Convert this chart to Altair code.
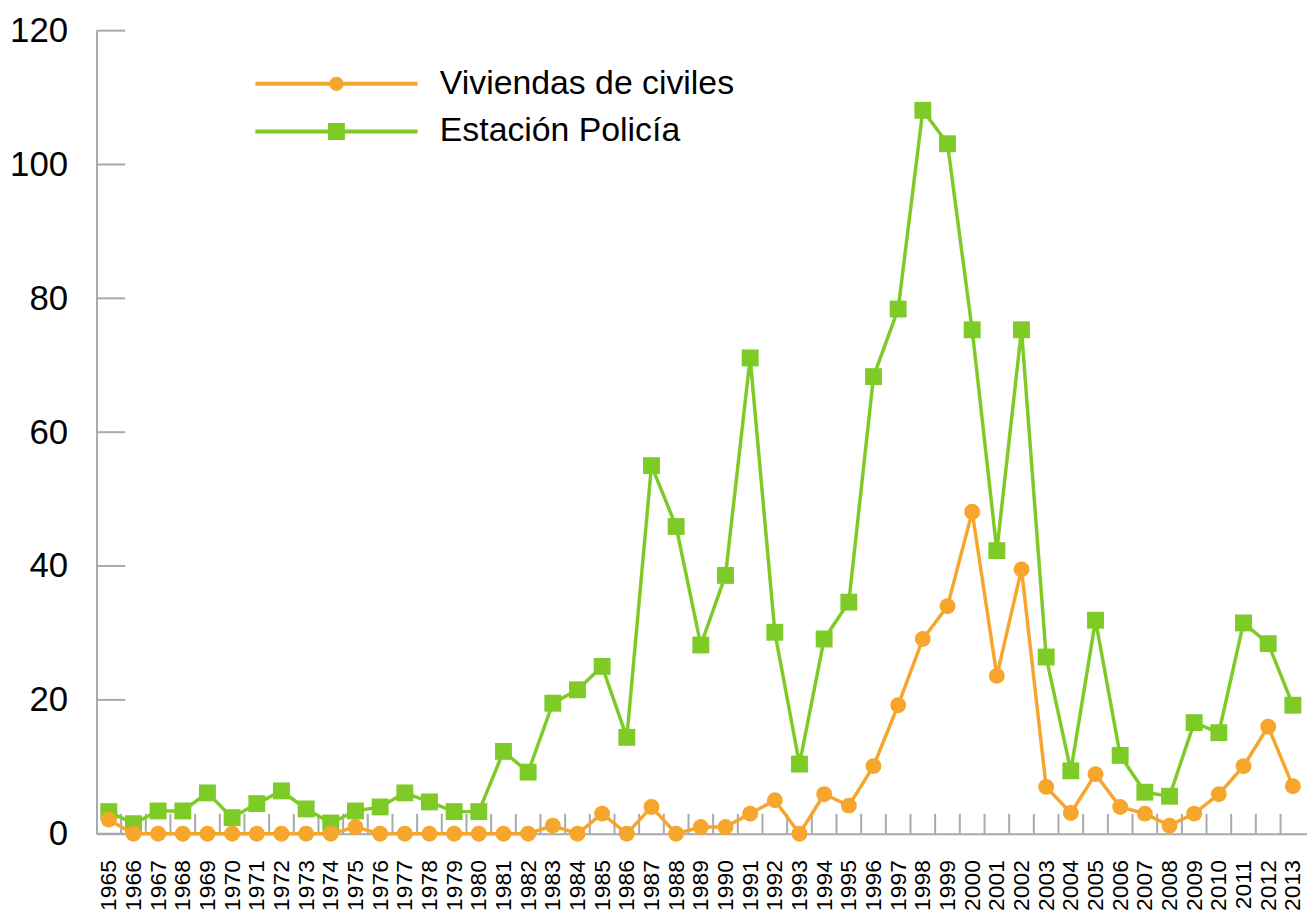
import altair as alt
import pandas as pd

# ---------------- data ----------------
years = list(range(1965, 2014))
series_names = ["Viviendas de civiles", "Estación Policía"]
viviendas = [2.1, 0, 0, 0, 0, 0, 0, 0, 0, 0,
             1.0, 0, 0, 0, 0, 0, 0, 0, 1.2, 0,
             3.0, 0, 4.0, 0, 1.0, 1.0, 3.0, 5.0, 0, 5.9,
             4.2, 10.1, 19.2, 29.1, 34.0, 48.1, 23.6, 39.5, 7.0, 3.1,
             8.9, 4.0, 3.0, 1.2, 3.0, 5.9, 10.1, 16.0, 7.1]
policia = [3.3, 1.5, 3.4, 3.4, 6.1, 2.4, 4.5, 6.4, 3.7, 1.6,
           3.4, 4.0, 6.1, 4.75, 3.3, 3.3, 12.3, 9.2, 19.5, 21.5,
           25.0, 14.4, 55.0, 45.9, 28.2, 38.6, 71.1, 30.1, 10.4, 29.1,
           34.6, 68.3, 78.4, 108.1, 103.1, 75.3, 42.3, 75.3, 26.4, 9.4,
           31.9, 11.7, 6.2, 5.6, 16.6, 15.1, 31.5, 28.4, 19.2]
y_tick_values = [0, 20, 40, 60, 80, 100, 120]

# ---------------- styles ----------------
ORANGE = "#F6A52D"
GREEN = "#7ECB28"
series_colors = [ORANGE, GREEN]
GREY = "#A9A9A9"
FONT = "Liberation Sans, Arial, Helvetica, sans-serif"
W, H = 1218, 808
PX_PER_YEAR = 24.82

df = pd.DataFrame({
    "year": years * 2,
    "series": [series_names[0]] * len(years) + [series_names[1]] * len(years),
    "value": viviendas + policia,
})
bounds_df = pd.DataFrame({"b": [y + 0.5 for y in years[:-1]]})
yticks_df = pd.DataFrame({"v": y_tick_values})

x_scale = alt.Scale(domain=[1964.5, 1964.5 + W / PX_PER_YEAR], nice=False, zero=False)
y_scale = alt.Scale(domain=[0, 120], nice=False, zero=True)
color_scale = alt.Scale(domain=series_names, range=series_colors)

# legend symbols: line + marker (unit square coordinates, r = sqrt(size)/2)
line_part = "M-9.6,-0.235H9.6V0.235H-9.6Z"
circle_sym = line_part + " M-0.85,0A0.85,0.85 0 1,1 0.85,0A0.85,0.85 0 1,1 -0.85,0Z"
square_sym = line_part + " M-1,-1H1V1H-1Z"

x_axis = alt.Axis(
    values=years, format="d", labelAngle=-90, labelAlign="right",
    labelBaseline="middle", labelFont=FONT, labelFontSize=23,
    labelColor="black", labelPadding=26, ticks=False, tickSize=0,
    grid=False, domainColor=GREY, domainWidth=2, title=None,
    labelOverlap=False, labelFlush=False, labelBound=False,
)
y_axis = alt.Axis(
    values=y_tick_values, labelFont=FONT, labelFontSize=35,
    labelColor="black", labelPadding=29, ticks=False, tickSize=0,
    grid=False, domainColor=GREY, domainWidth=2, title=None,
    labelFlush=False, labelBound=False,
)

X = alt.X("year:Q", scale=x_scale, axis=x_axis)
Y = alt.Y("value:Q", scale=y_scale, axis=y_axis)

legend = alt.Legend(
    title=None, orient="none", legendX=224.5, legendY=36.5,
    symbolSize=289, symbolStrokeWidth=0, symbolOpacity=1,
    labelFont=FONT, labelFontSize=34, labelColor="black",
    labelOffset=87, rowPadding=14, padding=0, labelLimit=0,
)

base = alt.Chart(df)

ytick_layer = alt.Chart(yticks_df).mark_rule(color=GREY, strokeWidth=2).encode(
    y=alt.Y("v:Q", scale=y_scale, axis=y_axis),
    x=alt.value(0), x2=alt.value(29),
)
xtick_layer = alt.Chart(bounds_df).mark_rule(color=GREY, strokeWidth=2).encode(
    x=alt.X("b:Q", scale=x_scale, axis=x_axis),
    y=alt.value(H), y2=alt.value(H - 20),
)

def series_layers(i, shape, size):
    d = base.transform_filter(alt.datum.series == series_names[i])
    col = alt.value(series_colors[i])
    line = d.mark_line(strokeWidth=3.5).encode(x=X, y=Y, color=col)
    pts = d.mark_point(filled=True, shape=shape, size=size, opacity=1,
                       strokeWidth=0).encode(x=X, y=Y, color=col)
    return [line, pts]

legend_layer = base.transform_filter("false").mark_point(filled=True, opacity=1).encode(
    x=X, y=Y,
    color=alt.Color("series:N", scale=color_scale, legend=legend),
    shape=alt.Shape("series:N", scale=alt.Scale(domain=series_names,
                                                range=[circle_sym, square_sym]),
                    legend=legend),
)

layers = ([ytick_layer, xtick_layer]
          + series_layers(1, "square", 289)
          + series_layers(0, "circle", 256)
          + [legend_layer])

chart = alt.layer(*layers).properties(
    width=W, height=H,
    autosize=alt.AutoSizeParams(type="none"),
    padding={"left": 89, "top": 20, "right": 0, "bottom": 80},
).configure_view(stroke=None)

chart.save("out.html", embed_options={"renderer": "svg", "actions": False})
